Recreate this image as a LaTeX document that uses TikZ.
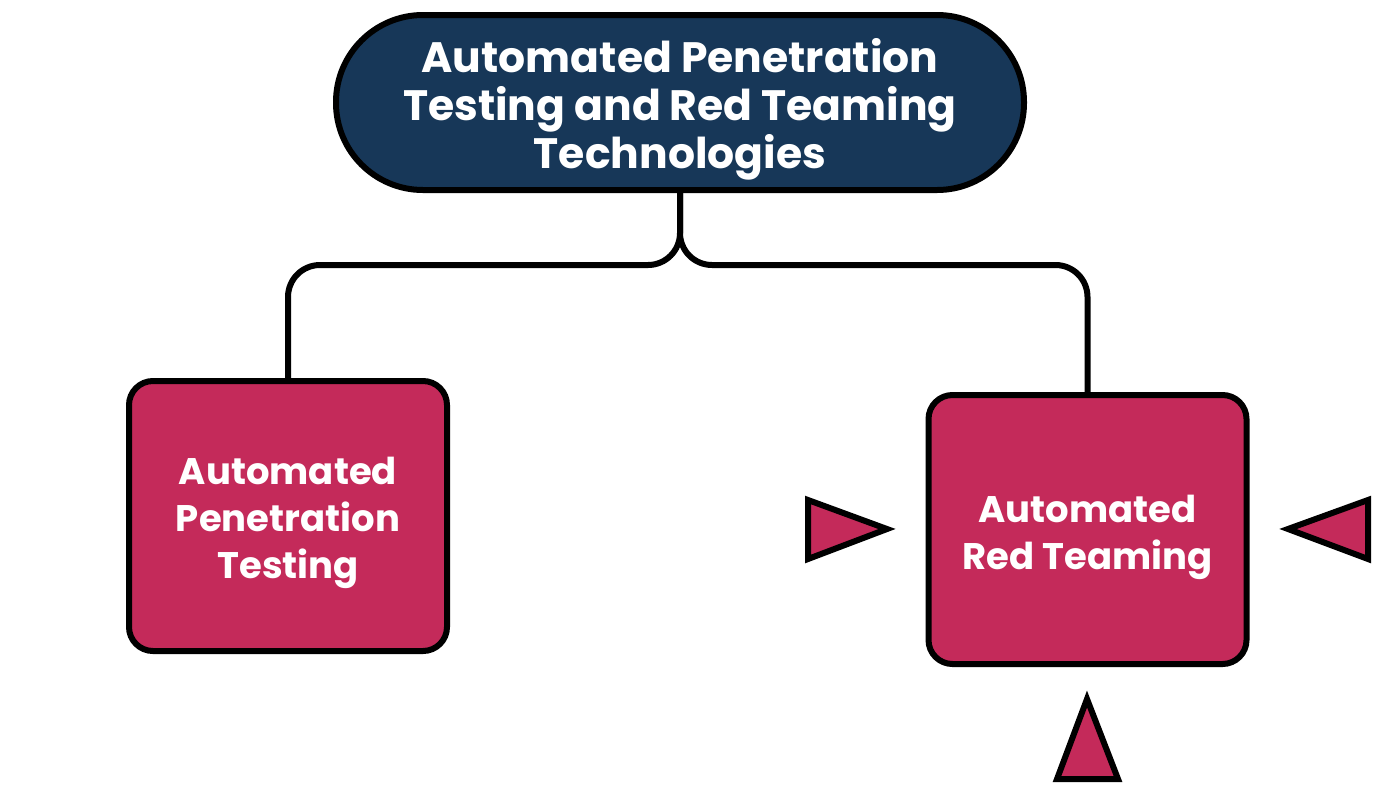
\documentclass[tikz,border=0pt]{standalone}
\usepackage{fontspec}
\setmainfont{Poppins}
\definecolor{navy}{HTML}{173758}
\definecolor{rose}{HTML}{C42A5A}
\begin{document}
\begin{tikzpicture}[x=1pt,y=-1pt,
  frame/.style={draw=black,line width=6pt},
  topbox/.style={frame,fill=navy,rounded corners=87pt,minimum width=688pt,minimum height=175pt,inner sep=0pt},
  leafbox/.style={frame,fill=rose,rounded corners=24pt,minimum width=318pt,minimum height=270pt,inner sep=0pt},
  toptext/.style={text=white,align=center,font=\bfseries\fontsize{42.5}{48}\selectfont,inner sep=0pt},
  leaftext/.style={text=white,align=center,font=\bfseries\fontsize{37}{47}\selectfont,inner sep=0pt},
  link/.style={draw=black,line width=6pt,rounded corners=32pt},
  marker/.style={frame,fill=rose,line join=miter}]
\useasboundingbox (0,0) rectangle (1380,796);
\node[topbox] (top) at (680,102.5) {};
\node[toptext] (toptxt) at ([yshift=-7pt]top.center) {Automated Penetration\\Testing and Red Teaming\\Technologies};
\node[leafbox] (left) at (288,516) {};
\node[leaftext] (lefttxt) at ([yshift=-7pt]left.center) {Automated\\Penetration\\Testing};
\node[leafbox,minimum height=269pt] (right) at (1087.5,529.5) {};
\node[leaftext] (righttxt) at ([yshift=-8pt]right.center) {Automated\\Red Teaming};
\coordinate (j) at (680,265);
\draw[link] (top.south) -- (j) -| (left.north);
\draw[link] (top.south) -- (j) -| (right.north);
\draw[marker] (808,500) -- (808,559) -- (887,529) -- cycle;
\draw[marker] (1368,500) -- (1368,559) -- (1288,529) -- cycle;
\draw[marker] (1087,699) -- (1118,779) -- (1057,779) -- cycle;
\end{tikzpicture}
\end{document}
